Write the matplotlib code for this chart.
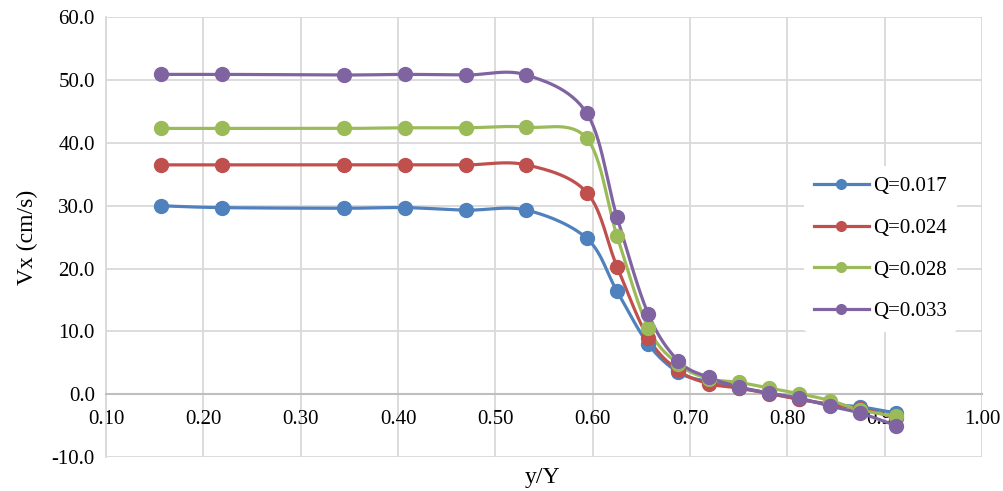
import numpy as np
import matplotlib.pyplot as plt

plt.rcParams['font.family'] = ['Liberation Serif', 'DejaVu Serif']

# Data
y_ratio = [0.156, 0.219, 0.344, 0.407, 0.470, 0.532, 0.594, 0.625, 0.657,
           0.688, 0.719, 0.750, 0.781, 0.812, 0.844, 0.875, 0.912]
vx_017 = [30.0, 29.7, 29.6, 29.7, 29.3, 29.3, 24.8, 16.4, 8.0, 3.5, 2.0,
          1.0, 0.2, -0.8, -1.6, -2.0, -3.0]
vx_024 = [36.5, 36.5, 36.5, 36.5, 36.5, 36.5, 32.1, 20.3, 9.0, 3.8, 1.7,
          1.0, 0.1, -0.8, -1.6, -2.3, -3.7]
vx_028 = [42.3, 42.3, 42.3, 42.4, 42.4, 42.5, 40.7, 25.2, 10.6, 4.8, 2.5,
          1.9, 1.0, 0.1, -1.0, -2.5, -3.5]
vx_033 = [50.9, 50.9, 50.8, 50.9, 50.8, 50.8, 44.7, 28.2, 12.8, 5.3, 2.7,
          1.2, 0.2, -0.6, -1.9, -3.0, -5.0]
labels = ['Q=0.017', 'Q=0.024', 'Q=0.028', 'Q=0.033']
colors = ['#4F81BD', '#C0504D', '#9BBB59', '#8064A2']


def smooth(x, y, n=30):
    # Excel-like smoothed line: cubic Bezier segments, Catmull-Rom control points
    x = np.asarray(x, float)
    y = np.asarray(y, float)
    px = np.concatenate([[x[0]], x, [x[-1]]])
    py = np.concatenate([[y[0]], y, [y[-1]]])
    t = np.linspace(0, 1, n)
    xs, ys = [], []
    for i in range(len(x) - 1):
        p0 = np.array([px[i], py[i]])
        p1 = np.array([px[i + 1], py[i + 1]])
        p2 = np.array([px[i + 2], py[i + 2]])
        p3 = np.array([px[i + 3], py[i + 3]])
        c1 = p1 + (p2 - p0) / 6
        c2 = p2 - (p3 - p1) / 6
        b = ((1 - t) ** 3)[:, None] * p1 + (3 * (1 - t) ** 2 * t)[:, None] * c1 \
            + (3 * (1 - t) * t ** 2)[:, None] * c2 + (t ** 3)[:, None] * p2
        xs.append(b[:, 0])
        ys.append(b[:, 1])
    return np.concatenate(xs), np.concatenate(ys)


fig = plt.figure(figsize=(10.04, 4.91), dpi=100)
ax = fig.add_axes([0.1056, 0.069, 0.8725, 0.896])

for vals, lab, c in zip([vx_017, vx_024, vx_028, vx_033], labels, colors):
    sx, sy = smooth(y_ratio, vals)
    ax.plot(sx, sy, color=c, lw=2.3, zorder=3)
    ax.plot(y_ratio, vals, 'o', color=c, ms=10, zorder=4)
    ax.plot([], [], '-o', color=c, lw=2.3, ms=7, label=lab)

ax.set_xlim(0.10, 1.00)
ax.set_ylim(-10, 60)
ax.set_xticks(np.arange(0.1, 1.001, 0.1))
ax.set_xticklabels([f'{v:.2f}' for v in np.arange(0.1, 1.001, 0.1)])
ax.set_yticks(np.arange(-10, 60.1, 10))
ax.set_yticklabels([f'{v:.1f}' for v in np.arange(-10, 60.1, 10)])
ax.tick_params(length=0, labelsize=15, pad=8)
ax.tick_params(axis='x', pad=11)

ax.grid(True, color='#d9d9d9', lw=1.3, zorder=0)
ax.set_axisbelow(True)
for s in ['top', 'right']:
    ax.spines[s].set_visible(False)
ax.spines['left'].set_color('#d9d9d9')
ax.spines['left'].set_linewidth(1.3)
ax.spines['bottom'].set_position(('data', 0))
ax.spines['bottom'].set_color('#bfbfbf')
ax.spines['bottom'].set_linewidth(1.5)

fig.text(543 / 1004, 1 - 478 / 491, 'y/Y', fontsize=17, ha='center', va='center')
ax.set_ylabel('Vx (cm/s)', fontsize=17, labelpad=10)

leg = ax.legend(loc='center left', bbox_to_anchor=(804 / 1004, 1 - 249 / 491),
                bbox_transform=fig.transFigure, frameon=True,
                fontsize=15, handlelength=2.6, labelspacing=1.06,
                borderpad=0.5, handletextpad=0.2, borderaxespad=0)
leg.get_frame().set_edgecolor('none')
leg.get_frame().set_facecolor('white')
leg.get_frame().set_alpha(1)

fig.savefig('out.png', dpi=100)
